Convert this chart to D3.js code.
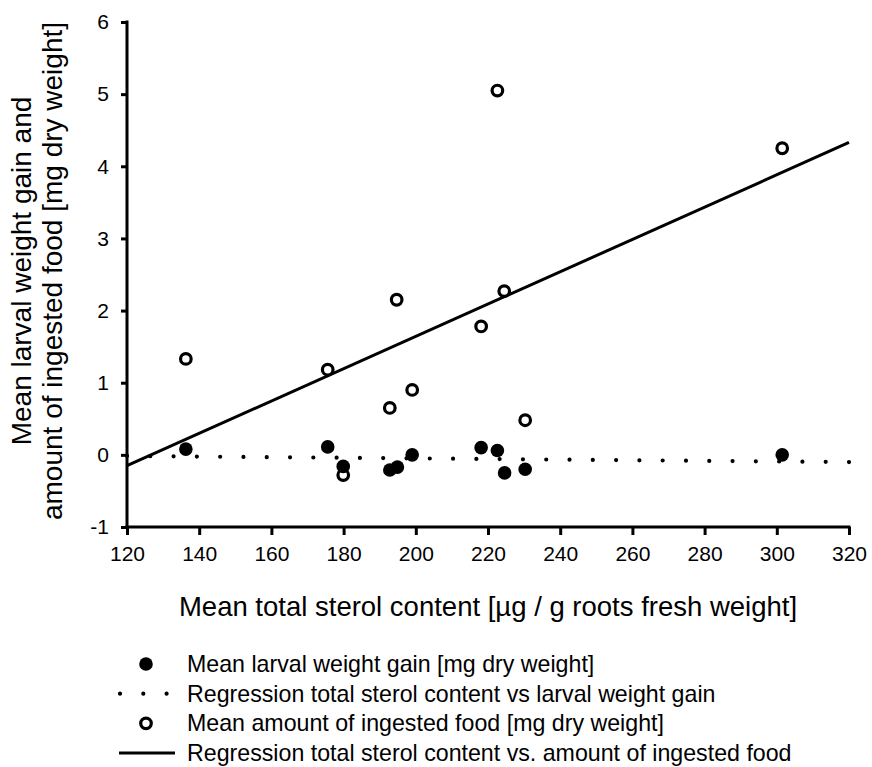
<!DOCTYPE html>
<html>
	<head>
		<script src="https://cdn.jsdelivr.net/npm/d3@7"></script>
		<style>
		body{
			margin:0;
			background-color: white;
		}
		text{
			font-family: "Liberation Sans", Arial, sans-serif;
			fill: black;
		}
		</style>
	</head>
	<body>
		<div class="chart"></div>
	</body>
	<script>
		// sterol content (x) for each larval group
		var sterol = [136.3, 175.6, 179.9, 192.8, 194.9, 199.0, 218.1, 222.6, 224.6, 230.3, 301.5];
		// mean larval weight gain [mg dry weight]
		var weightGain = [0.08, 0.11, -0.16, -0.21, -0.17, 0.00, 0.10, 0.06, -0.25, -0.20, 0.00];
		// ingested food, same order as the x values below
		var foodX = [136.3, 175.6, 179.9, 192.8, 194.7, 199.0, 218.1, 222.6, 224.5, 230.3, 301.5];
		var foodY = [1.33, 1.18, -0.28, 0.65, 2.15, 0.90, 1.78, 5.05, 2.27, 0.48, 4.25];
		// regression lines, value at x = 120 and x = 320
		var regX = [120, 320];
		var regGain = [-0.015, -0.10];
		var regFood = [-0.15, 4.33];

		var xTicks = [120, 140, 160, 180, 200, 220, 240, 260, 280, 300, 320];
		var yTicks = [-1, 0, 1, 2, 3, 4, 5, 6];
		var legendLabels = [
			'Mean larval weight gain [mg dry weight]',
			'Regression total sterol content vs larval weight gain',
			'Mean amount of ingested food [mg dry weight]',
			'Regression total sterol content vs. amount of ingested food'
		];

		var W = 872, H = 767;
		var pLeft = 127, pRight = 849, pTop = 22, pBottom = 527;

		var svg = d3.select('.chart').append('svg')
					.attr('width', W)
					.attr('height', H);

		var x = d3.scaleLinear().domain([120, 320]).range([pLeft, pRight]);
		var y = d3.scaleLinear().domain([-1, 6]).range([pBottom, pTop]);

		// axes
		var xAxis = svg.append('g')
			.attr('transform', 'translate(0,' + pBottom + ')')
			.call(d3.axisBottom(x).tickValues(xTicks).tickSize(8).tickPadding(11).tickSizeOuter(0));
		var yAxis = svg.append('g')
			.attr('transform', 'translate(' + pLeft + ',0)')
			.call(d3.axisLeft(y).tickValues(yTicks).tickFormat(function(d){ return String(d); })
				.tickSize(6).tickPadding(12).tickSizeOuter(0));

		[xAxis, yAxis].forEach(function(a){
			a.select('.domain').attr('stroke', 'black').attr('stroke-width', 3);
			a.selectAll('.tick line').attr('stroke', 'black').attr('stroke-width', 3);
			a.selectAll('.tick text').style('font-size', '21px').attr('fill', 'black');
		});
		// extend the domains so the corner is closed
		xAxis.select('.domain').attr('d', 'M' + (pLeft - 1.5) + ',0H' + (pRight + 1.5));
		yAxis.select('.domain').attr('d', 'M0,' + (pTop - 1.5) + 'V' + (pBottom + 1.5));

		// dotted regression (weight gain)
		var line = d3.line()
			.x(function(d){ return x(d[0]); })
			.y(function(d){ return y(d[1]); });

		var dotted = svg.append('path')
			.attr('d', line(d3.zip(regX, regGain)))
			.attr('fill', 'none')
			.attr('stroke', 'black')
			.attr('stroke-width', 4.2)
			.attr('stroke-linecap', 'round');
		var gap = dotted.node().getTotalLength() / 31;
		dotted.attr('stroke-dasharray', '0 ' + gap);

		// solid regression (ingested food)
		svg.append('path')
			.attr('d', line(d3.zip(regX, regFood)))
			.attr('fill', 'none')
			.attr('stroke', 'black')
			.attr('stroke-width', 3);

		// open circles
		svg.selectAll('circle.food').data(d3.zip(foodX, foodY)).enter().append('circle')
			.attr('class', 'food')
			.attr('cx', function(d){ return x(d[0]); })
			.attr('cy', function(d){ return y(d[1]); })
			.attr('r', 5.3)
			.attr('fill', 'white')
			.attr('stroke', 'black')
			.attr('stroke-width', 3.2);

		// filled circles
		svg.selectAll('circle.gain').data(d3.zip(sterol, weightGain)).enter().append('circle')
			.attr('class', 'gain')
			.attr('cx', function(d){ return x(d[0]); })
			.attr('cy', function(d){ return y(d[1]); })
			.attr('r', 6.8)
			.attr('fill', 'black');

		// axis titles
		svg.append('text')
			.attr('x', (pLeft + pRight) / 2)
			.attr('y', 616)
			.attr('text-anchor', 'middle')
			.style('font-size', '27.5px')
			.text('Mean total sterol content [µg / g roots fresh weight]');

		var yTitle = svg.append('text')
			.attr('transform', 'translate(0,271) rotate(-90)')
			.attr('text-anchor', 'middle')
			.style('font-size', '28px');
		yTitle.append('tspan').attr('x', 0).attr('y', 31).text('Mean larval weight gain and');
		yTitle.append('tspan').attr('x', 0).attr('y', 62).text('amount of ingested food [mg dry weight]');

		// legend
		var legY = d3.scaleLinear().domain([0, 3]).range([664, 753]);
		var leg = svg.selectAll('g.leg').data(legendLabels).enter().append('g')
			.attr('class', 'leg')
			.attr('transform', function(d, i){ return 'translate(0,' + legY(i) + ')'; });

		leg.append('text')
			.attr('x', 187)
			.attr('y', 8)
			.style('font-size', '23.2px')
			.text(function(d){ return d; });

		leg.filter(function(d, i){ return i == 0; }).append('circle')
			.attr('cx', 146).attr('cy', 0).attr('r', 6.8).attr('fill', 'black');
		leg.filter(function(d, i){ return i == 1; }).append('path')
			.attr('d', 'M120,0H167')
			.attr('stroke', 'black')
			.attr('stroke-width', 4.2)
			.attr('stroke-linecap', 'round')
			.attr('stroke-dasharray', '0 23.3');
		leg.filter(function(d, i){ return i == 2; }).append('circle')
			.attr('cx', 146).attr('cy', 0).attr('r', 5.3)
			.attr('fill', 'white').attr('stroke', 'black').attr('stroke-width', 3.2);
		leg.filter(function(d, i){ return i == 3; }).append('path')
			.attr('d', 'M119,0H175')
			.attr('stroke', 'black')
			.attr('stroke-width', 3);
	</script>
</html>
